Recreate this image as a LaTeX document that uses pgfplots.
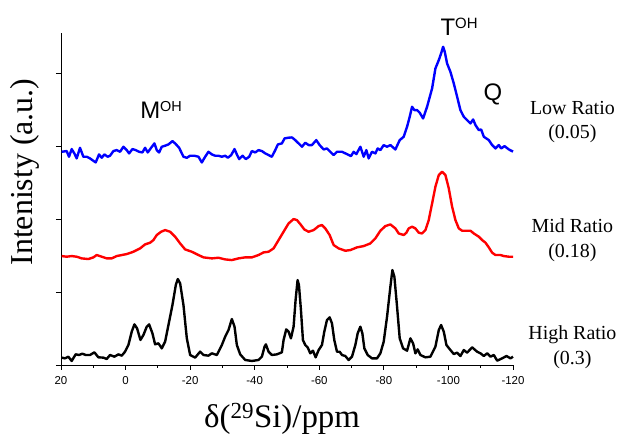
\documentclass[border=0pt]{standalone}
\usepackage{fontspec}
\setmainfont{Liberation Serif}
\setsansfont{Liberation Sans}
\usepackage{pgfplots}
\pgfplotsset{compat=1.18}
\definecolor{specblue}{RGB}{0,0,255}
\definecolor{specred}{RGB}{255,0,0}
\begin{document}
\begin{tikzpicture}
\begin{axis}[
  scale only axis, width=452bp, height=332bp,
  x dir=reverse, xmin=-120, xmax=20, ymin=0, ymax=4.55,
  axis lines*=left,
  axis line style={line width=0.8pt},
  tick align=outside,
  xtick={20,0,-20,-40,-60,-80,-100,-120},
  xticklabels={20,0,-20,-40,-60,-80,-100,-120},
  minor x tick num=1,
  ytick={0,1,2,3,4}, yticklabels={},
  major tick length=5bp, minor tick length=3bp,
  tick style={black, line width=0.8pt},
  xticklabel style={font=\sffamily\fontsize{11.5}{11.5}\selectfont, yshift=-2.5bp},
  xlabel={δ(\textsuperscript{29}Si)/ppm},
  xlabel style={font=\fontsize{33}{33}\selectfont, at={(axis description cs:0.489,-0.187)}, anchor=base},
  ylabel={Intenisty (a.u.)},
  ylabel style={font=\fontsize{32}{32}\selectfont, at={(axis description cs:-0.062,0.581)}, anchor=base},
  clip=false,
  every axis plot/.append style={line width=2.4pt, line join=round, mark=none},
]
% Low ratio
\addplot[specblue] coordinates {
(19.8,2.922) (18.24,2.932) (17.52,2.854) (16.69,2.959) (15.87,2.900) (15.14,2.831) (14.11,2.977) (13.08,2.854) (12.04,2.854) (11.01,2.831) (10.29,2.808) (9.25,2.776) (8.22,2.886) (7.39,2.840) (6.56,2.886) (5.53,2.854) (4.81,2.868) (3.77,2.932) (2.74,2.945) (1.71,2.922) (0.67,2.991) (-0.36,2.945) (-1.09,2.900) (-2.12,2.959) (-3.15,2.945) (-4.19,2.922) (-5.22,2.913) (-6.05,2.977) (-6.87,2.913) (-7.91,2.977) (-8.94,3.037) (-9.66,2.945) (-10.39,2.913) (-11.22,2.991) (-12.25,3.005) (-13.28,3.023) (-14.52,3.068) (-15.35,3.037) (-16.59,2.977) (-17.93,2.854) (-18.97,2.840) (-20.0,2.868) (-21.34,2.868) (-22.58,2.854) (-23.62,2.776) (-24.65,2.854) (-25.68,2.922) (-26.72,2.886) (-27.75,2.868) (-28.78,2.868) (-29.82,2.854) (-30.85,2.868) (-31.68,2.840) (-32.71,2.877) (-33.75,2.959) (-34.47,2.886) (-35.19,2.822) (-36.23,2.868) (-37.26,2.822) (-38.29,2.854) (-39.12,2.932) (-40.16,2.913) (-41.19,2.945) (-42.22,2.932) (-43.26,2.900) (-44.29,2.877) (-45.32,2.854) (-46.36,2.945) (-47.18,3.023) (-48.42,3.037) (-49.25,3.105) (-50.28,3.114) (-51.53,3.119) (-52.56,3.082) (-53.59,3.037) (-54.63,2.991) (-55.66,3.046) (-56.70,3.014) (-57.73,3.014) (-59.07,3.082) (-60.11,3.014) (-61.35,2.954) (-62.38,2.968) (-63.41,2.922) (-64.45,2.877) (-65.48,2.922) (-67.03,2.922) (-68.58,2.890) (-69.82,2.863) (-70.65,2.922) (-71.48,2.890) (-72.72,2.991) (-73.75,2.854) (-74.58,2.945) (-75.30,2.831) (-76.33,2.922) (-77.37,2.900) (-78.09,2.968) (-78.92,2.945) (-79.95,3.014) (-80.99,2.991) (-82.02,3.014) (-83.57,2.954) (-84.91,3.082) (-86.15,3.128) (-87.19,3.265) (-88.01,3.402) (-88.74,3.539) (-89.46,3.493) (-90.29,3.493) (-91.11,3.457) (-92.15,3.379) (-93.39,3.539) (-94.94,3.790) (-95.97,4.064) (-97.01,4.178) (-97.73,4.269) (-98.35,4.361) (-98.87,4.292) (-99.59,4.132) (-100.62,4.018) (-101.66,3.858) (-102.69,3.676) (-103.72,3.493) (-104.76,3.402) (-105.79,3.356) (-106.83,3.311) (-107.65,3.365) (-108.38,3.288) (-109.41,3.219) (-110.13,3.228) (-110.96,3.128) (-112.51,3.082) (-113.54,3.014) (-114.58,2.968) (-115.61,3.014) (-116.33,2.968) (-117.37,3.000) (-118.71,2.954) (-120,2.925)
};
% Mid ratio
\addplot[specred] coordinates {
(19.79,1.493) (18.24,1.484) (16.69,1.493) (15.14,1.484) (13.59,1.461) (11.52,1.452) (9.97,1.475) (8.94,1.507) (7.39,1.484) (5.84,1.461) (4.29,1.461) (2.74,1.493) (1.19,1.507) (-0.36,1.520) (-2.43,1.552) (-4.50,1.598) (-6.05,1.653) (-7.60,1.676) (-8.63,1.712) (-9.66,1.781) (-11.01,1.826) (-12.25,1.849) (-13.80,1.826) (-15.35,1.758) (-16.90,1.666) (-18.45,1.584) (-20.52,1.552) (-22.58,1.507) (-24.13,1.475) (-26.72,1.461) (-28.78,1.470) (-30.85,1.447) (-32.92,1.438) (-34.99,1.461) (-37.05,1.475) (-39.12,1.475) (-41.19,1.507) (-42.74,1.543) (-44.29,1.552) (-45.84,1.598) (-47.39,1.712) (-48.94,1.826) (-50.49,1.940) (-52.04,2.000) (-53.08,1.986) (-54.11,1.931) (-55.35,1.858) (-56.70,1.826) (-58.25,1.849) (-59.80,1.904) (-60.83,1.918) (-61.86,1.872) (-63.21,1.781) (-64.45,1.644) (-66.00,1.598) (-68.07,1.566) (-69.62,1.575) (-71.68,1.612) (-73.75,1.630) (-75.82,1.666) (-77.37,1.735) (-78.92,1.840) (-80.47,1.904) (-82.02,1.927) (-83.57,1.872) (-84.60,1.803) (-86.15,1.781) (-86.98,1.813) (-87.70,1.872) (-88.74,1.895) (-89.77,1.872) (-90.80,1.813) (-91.84,1.803) (-92.87,1.849) (-93.90,1.986) (-94.94,2.214) (-95.97,2.443) (-97.01,2.603) (-98.04,2.648) (-99.07,2.603) (-100.11,2.420) (-101.14,2.169) (-102.17,1.986) (-103.21,1.872) (-104.24,1.840) (-105.79,1.840) (-106.83,1.840) (-107.86,1.803) (-109.41,1.758) (-110.44,1.712) (-111.48,1.676) (-112.51,1.612) (-113.54,1.539) (-114.58,1.507) (-116.13,1.507) (-117.16,1.493) (-118.71,1.484) (-120,1.484)
};
% High ratio
\addplot[black] coordinates {
(19.79,0.101) (18.76,0.091) (17.73,0.114) (16.69,0.055) (15.45,0.146) (14.42,0.137) (13.39,0.155) (12.35,0.137) (11.01,0.137) (9.66,0.174) (8.42,0.105) (6.87,0.101) (5.84,0.082) (4.81,0.137) (3.46,0.114) (2.22,0.146) (1.19,0.128) (0.15,0.183) (-0.88,0.274) (-1.91,0.457) (-2.74,0.557) (-3.57,0.502) (-4.60,0.343) (-5.53,0.411) (-6.56,0.525) (-7.29,0.557) (-8.32,0.434) (-9.15,0.283) (-10.18,0.297) (-11.21,0.228) (-12.25,0.320) (-13.28,0.548) (-14.52,0.822) (-15.56,1.096) (-16.18,1.178) (-16.90,1.119) (-17.93,0.822) (-18.97,0.365) (-20.00,0.137) (-21.55,0.101) (-23.10,0.183) (-24.13,0.137) (-25.68,0.128) (-26.72,0.160) (-28.27,0.137) (-29.82,0.274) (-30.85,0.388) (-31.89,0.480) (-32.92,0.630) (-33.75,0.525) (-34.47,0.274) (-35.50,0.146) (-37.05,0.069) (-39.12,0.055) (-41.19,0.069) (-42.22,0.114) (-43.05,0.251) (-43.46,0.283) (-44.29,0.183) (-45.32,0.137) (-46.87,0.146) (-48.42,0.174) (-48.94,0.342) (-49.77,0.488) (-50.49,0.456) (-51.22,0.365) (-52.04,0.525) (-52.66,0.890) (-53.28,1.164) (-53.70,1.096) (-54.32,0.753) (-54.94,0.342) (-55.66,0.274) (-56.39,0.242) (-57.21,0.160) (-58.04,0.196) (-58.87,0.105) (-59.80,0.205) (-60.83,0.274) (-61.55,0.456) (-62.38,0.616) (-63.21,0.653) (-63.93,0.570) (-64.65,0.342) (-65.48,0.182) (-66.31,0.182) (-67.03,0.137) (-68.07,0.123) (-69.10,0.068) (-70.13,0.114) (-71.17,0.274) (-71.89,0.434) (-72.72,0.525) (-73.34,0.434) (-73.96,0.228) (-74.99,0.137) (-76.33,0.091) (-77.88,0.091) (-78.92,0.160) (-79.95,0.319) (-80.99,0.662) (-82.02,1.073) (-82.64,1.301) (-83.26,1.210) (-84.09,0.799) (-84.91,0.365) (-85.95,0.228) (-87.19,0.196) (-88.22,0.365) (-89.05,0.297) (-89.77,0.160) (-90.49,0.214) (-91.32,0.137) (-92.87,0.105) (-94.42,0.114) (-95.97,0.251) (-97.01,0.479) (-97.73,0.548) (-98.56,0.456) (-99.38,0.274) (-100.62,0.205) (-101.66,0.150) (-102.69,0.169) (-103.72,0.123) (-104.76,0.205) (-105.79,0.169) (-107.34,0.242) (-108.89,0.182) (-109.93,0.160) (-110.96,0.123) (-111.99,0.160) (-113.03,0.114) (-114.06,0.137) (-115.09,0.059) (-116.64,0.091) (-117.99,0.123) (-119.23,0.091) (-120,0.114)
};
% peak labels
\node[anchor=base west, inner sep=0, font=\sffamily\fontsize{24}{24}\selectfont] at (axis cs:-4.5,3.38) {M\raisebox{7bp}{\fontsize{14.5}{14.5}\selectfont OH}};
\node[anchor=base west, inner sep=0, font=\sffamily\fontsize{24}{24}\selectfont] at (axis cs:-97.5,4.52) {T\raisebox{7bp}{\fontsize{15}{15}\selectfont OH}};
\node[anchor=base west, inner sep=0, font=\sffamily\fontsize{24}{24}\selectfont] at (axis cs:-110.85,3.62) {Q};
% series labels
\node[align=center, font=\fontsize{20}{25}\selectfont] at (axis cs:-138.4,3.33) {Low Ratio\\(0.05)};
\node[align=center, font=\fontsize{20}{25}\selectfont] at (axis cs:-138.4,1.71) {Mid Ratio\\(0.18)};
\node[align=center, font=\fontsize{20}{25}\selectfont] at (axis cs:-138.4,0.25) {High Ratio\\(0.3)};
\path (axis description cs:-0.13496,-0.20783) rectangle (axis description cs:1.23673,1.09940);
\end{axis}
\end{tikzpicture}
\end{document}
